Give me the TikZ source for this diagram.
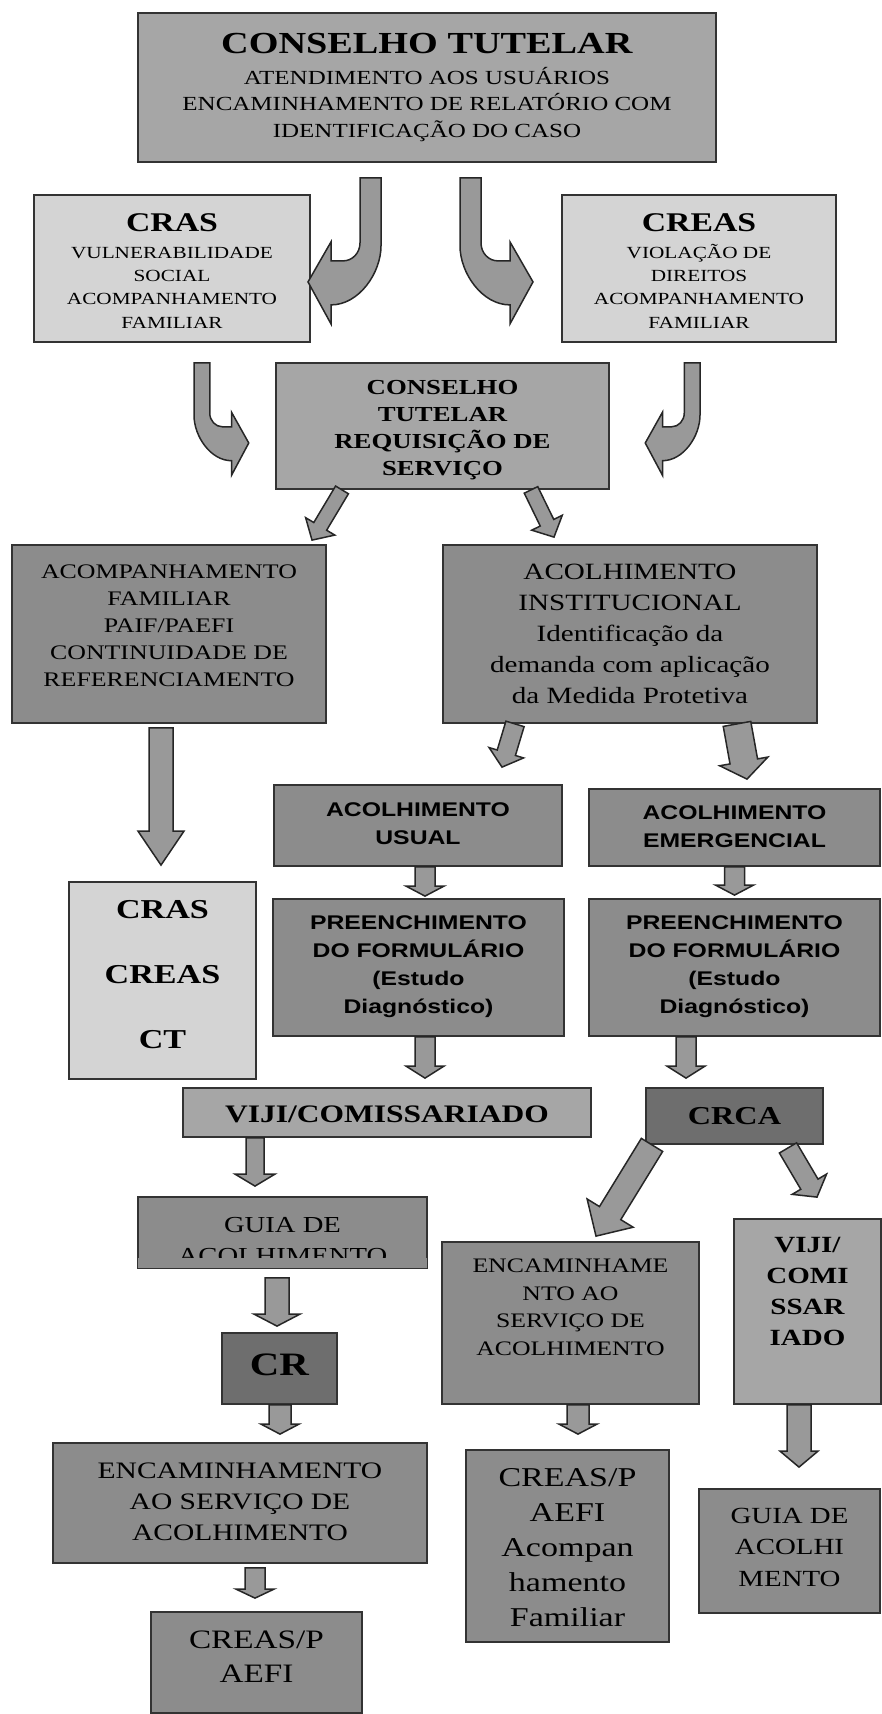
\documentclass[tikz,border=0pt]{standalone}
\usepackage{fontspec}
\setmainfont{Liberation Serif}[FakeStretch=1.25]
\setsansfont{Liberation Sans}[FakeStretch=1.25]
\usepackage{xcolor}
\usepackage{tikz}
\usetikzlibrary{calc}

\definecolor{grayL}{HTML}{D4D4D4}
\definecolor{grayA}{HTML}{A6A6A6}
\definecolor{grayM}{HTML}{8C8C8C}
\definecolor{grayD}{HTML}{6E6E6E}
\definecolor{arrowgray}{HTML}{999999}

\newcommand\fsz[2]{\fontsize{#1}{#2}\selectfont}
\newcommand\padt[1]{\rule{0pt}{#1pt}}
\newcommand\padb[1]{\rule[-#1pt]{0pt}{#1pt}}

\tikzset{
  box/.style={draw=black!80, line width=1.8pt, align=center, inner sep=0pt},
  arrowbody/.style={draw=black!85, line width=1.5pt, fill=arrowgray},
  bent/.pic={\draw[arrowbody] (0,0) -- (21,0) -- (21,65)
      .. controls (21,75) and (28.5,83) .. (38,83) -- (50,83) -- (50,64)
      -- (73,104) -- (50,146) -- (50,127)
      .. controls (22,127) and (0,95) .. (0,68) -- cycle;}
}

\newcommand\blockarrow[5]{%
  \coordinate (ba-s) at (#1);
  \coordinate (ba-t) at (#2);
  \coordinate (ba-h) at ($(ba-t)!#5pt!(ba-s)$);
  \draw[arrowbody] ($(ba-s)!#3pt!90:(ba-t)$) -- ($(ba-h)!#3pt!-90:(ba-s)$)
    -- ($(ba-h)!#4pt!-90:(ba-s)$) -- (ba-t) -- ($(ba-h)!#4pt!90:(ba-s)$)
    -- ($(ba-h)!#3pt!90:(ba-s)$) -- ($(ba-s)!#3pt!-90:(ba-t)$) -- cycle;}

\begin{document}
\begin{tikzpicture}[x=1pt,y=-1pt]
\useasboundingbox (0,0) rectangle (882,1714);

\node[box, fill=grayA, minimum width=578, minimum height=149, font=\fsz{20}{26.5}]
  (ct) at (427,87.5) {\padt{21}\textbf{\fsz{30.6}{26.5}CONSELHO TUTELAR}\\[4.5pt]
  ATENDIMENTO AOS USUÁRIOS\\ENCAMINHAMENTO DE RELATÓRIO COM\\IDENTIFICAÇÃO DO CASO\padb{6}};
\node[box, fill=grayL, minimum width=276, minimum height=147, font=\fsz{17}{23.3}]
  (cras) at (172,268.5) {\padt{27}\textbf{\fsz{27}{23.3}CRAS}\\[3.3pt]
  VULNERABILIDADE\\SOCIAL\\ACOMPANHAMENTO\\FAMILIAR\padb{4}};
\node[box, fill=grayL, minimum width=274, minimum height=147, font=\fsz{17}{23.3}]
  (creas) at (699,268.5) {\padt{27}\textbf{\fsz{27}{23.3}CREAS}\\[3.3pt]
  VIOLAÇÃO DE\\DIREITOS\\ACOMPANHAMENTO\\FAMILIAR\padb{4}};
\node[box, fill=grayA, minimum width=333, minimum height=126, font=\bfseries\fsz{21.4}{27}]
  (ctreq) at (442.5,426) {\padt{22}CONSELHO\\TUTELAR\\REQUISIÇÃO DE\\SERVIÇO\padb{5}};

\node[box, fill=grayM, minimum width=314, minimum height=178, font=\fsz{20.7}{27.2}]
  (acomp) at (169,634) {\padt{15}ACOMPANHAMENTO\\FAMILIAR\\PAIF/PAEFI\\CONTINUIDADE DE\\REFERENCIAMENTO\padb{18}};
\node[box, fill=grayM, minimum width=374, minimum height=178, font=\fsz{23.3}{30.8}]
  (acolh) at (630,634) {\padt{20}ACOLHIMENTO\\INSTITUCIONAL\\Identificação da\\demanda com aplicação\\da Medida Protetiva\padb{5}};

\node[box, fill=grayM, minimum width=288, minimum height=81, font=\sffamily\bfseries\fsz{19.8}{27.3}]
  (usual) at (418,825.5) {\padt{16}ACOLHIMENTO\\USUAL\padb{6}};
\node[box, fill=grayM, minimum width=291, minimum height=77, font=\sffamily\bfseries\fsz{19.8}{27.3}]
  (emerg) at (734.5,827.5) {\padt{18}ACOLHIMENTO\\EMERGENCIAL\padb{6}};
\node[box, fill=grayM, minimum width=291, minimum height=137, font=\sffamily\bfseries\fsz{19.8}{27.8}]
  (preL) at (418.5,967.5) {\padt{16}PREENCHIMENTO\\DO FORMULÁRIO\\(Estudo\\Diagnóstico)\padb{8}};
\node[box, fill=grayM, minimum width=291, minimum height=137, font=\sffamily\bfseries\fsz{19.8}{27.8}]
  (preR) at (734.5,967.5) {\padt{16}PREENCHIMENTO\\DO FORMULÁRIO\\(Estudo\\Diagnóstico)\padb{8}};
\node[box, fill=grayL, minimum width=187, minimum height=197, font=\bfseries\fsz{27.3}{65}]
  (crasct) at (162.5,980.5) {\padt{18}CRAS\\CREAS\\CT\padb{12}};

\node[box, fill=grayA, minimum width=408, minimum height=49, font=\bfseries\fsz{25.2}{30}]
  (vijiL) at (387,1112.5) {\padt{24}VIJI/COMISSARIADO\padb{4}};
\node[box, fill=grayD, minimum width=177, minimum height=56, font=\bfseries\fsz{25.8}{30}]
  (crca) at (734.5,1116) {\padt{20}CRCA\padb{4}};
\node[box, fill=grayM, minimum width=289, minimum height=71, font=\fsz{22.9}{31}]
  (guiaL) at (282.5,1232.5) {\padt{32}GUIA DE\\ACOLHIMENTO\padb{2}};
\fill[grayM] ($(guiaL.south west)+(1.2,-1.2)$) rectangle ($(guiaL.south east)+(-1.2,-11)$);
\node[box, fill=grayD, minimum width=115, minimum height=71, font=\bfseries\fsz{32.7}{36}]
  (cr) at (279.5,1368.5) {\padt{22}CR\padb{9}};
\node[box, fill=grayM, minimum width=257, minimum height=162, font=\fsz{20.6}{27.5}]
  (encB) at (570.5,1323) {\padt{14}ENCAMINHAME\\NTO AO\\SERVIÇO DE\\ACOLHIMENTO\padb{32}};
\node[box, fill=grayA, minimum width=147, minimum height=185, font=\bfseries\fsz{23.2}{31}]
  (vijiR) at (807.5,1311.5) {\padt{16}VIJI/\\COMI\\SSAR\\IADO\padb{41}};

\node[box, fill=grayM, minimum width=374, minimum height=120, font=\fsz{23.6}{31}]
  (encA) at (240,1503) {\padt{18}ENCAMINHAMENTO\\AO SERVIÇO DE\\ACOLHIMENTO\padb{6}};
\node[box, fill=grayM, minimum width=203, minimum height=192, font=\fsz{27.2}{35}]
  (creasA) at (567.5,1546) {\padt{27}CREAS/P\\AEFI\\Acompan\\hamento\\Familiar\padb{6}};
\node[box, fill=grayM, minimum width=181, minimum height=124, font=\fsz{23.1}{31.5}]
  (guiaR) at (789.5,1551) {\padt{16}GUIA DE\\ACOLHI\\MENTO\padb{9}};
\node[box, fill=grayM, minimum width=211, minimum height=101, font=\fsz{26.6}{34}]
  (creasB) at (256.5,1662.5) {\padt{19}CREAS/P\\AEFI\padb{14}};

\pic[xscale=-1] at ($(ct.south)+(-46,15)$) {bent};
\pic at ($(ct.south)+(33,15)$) {bent};
\pic[xscale=0.75,yscale=0.77] at ($(cras.south)+(22,20)$) {bent};
\pic[xscale=-0.75,yscale=0.77] at ($(creas.south)+(1,20)$) {bent};

\blockarrow{$(ctreq.south)+(-100.5,0)$}{$(acomp.north)+(143,-4)$}{7.5}{17}{16}
\blockarrow{$(ctreq.south)+(88.5,0)$}{$(acolh.north)+(-76,-7)$}{7.5}{17}{16}
\blockarrow{$(acomp.south)+(-8,4)$}{$(crasct.north)+(-1.5,-16)$}{12}{23}{34}
\blockarrow{$(acolh.south)+(-115,0)$}{$(usual.north)+(84,-17)$}{9.5}{18}{15}
\blockarrow{$(acolh.south)+(107,0)$}{$(emerg.north)+(12.5,-9)$}{14}{24.5}{18}
\blockarrow{$(usual.south)+(7,0)$}{$(preL.north)+(6.5,-2)$}{10}{19}{10}
\blockarrow{$(emerg.south)$}{$(preR.north)+(0,-3)$}{10}{19}{10}
\blockarrow{$(preL.south)+(6.5,0)$}{$(vijiL.north)+(38,-9)$}{10}{19}{12}
\blockarrow{$(preR.south)+(-48.5,0)$}{$(crca.north)+(-48.5,-9)$}{10}{19}{12}
\blockarrow{$(vijiL.south)+(-132,0)$}{$(guiaL.north)+(-27.5,-10)$}{9}{20}{12}
\blockarrow{$(crca.south)+(-82.5,0)$}{$(encB.north)+(25.5,-5)$}{12.5}{27}{27}
\blockarrow{$(crca.south)+(53.5,3)$}{$(vijiR.north)+(9.5,-21)$}{10}{20}{15}
\blockarrow{$(guiaL.south)+(-5.5,9)$}{$(cr.north)+(-2.5,-6)$}{12}{23}{12}
\blockarrow{$(cr.south)+(0.5,0)$}{$(encA.north)+(40,-8)$}{11}{19}{10}
\blockarrow{$(encB.south)+(7.5,0)$}{$(creasA.north)+(10.5,-15)$}{11}{19}{10}
\blockarrow{$(vijiR.south)+(-8.5,0)$}{$(guiaR.north)+(9.5,-21)$}{12}{19}{16}
\blockarrow{$(encA.south)+(15,4)$}{$(creasB.north)+(-1.5,-13)$}{10}{19}{9}
\end{tikzpicture}
\end{document}
